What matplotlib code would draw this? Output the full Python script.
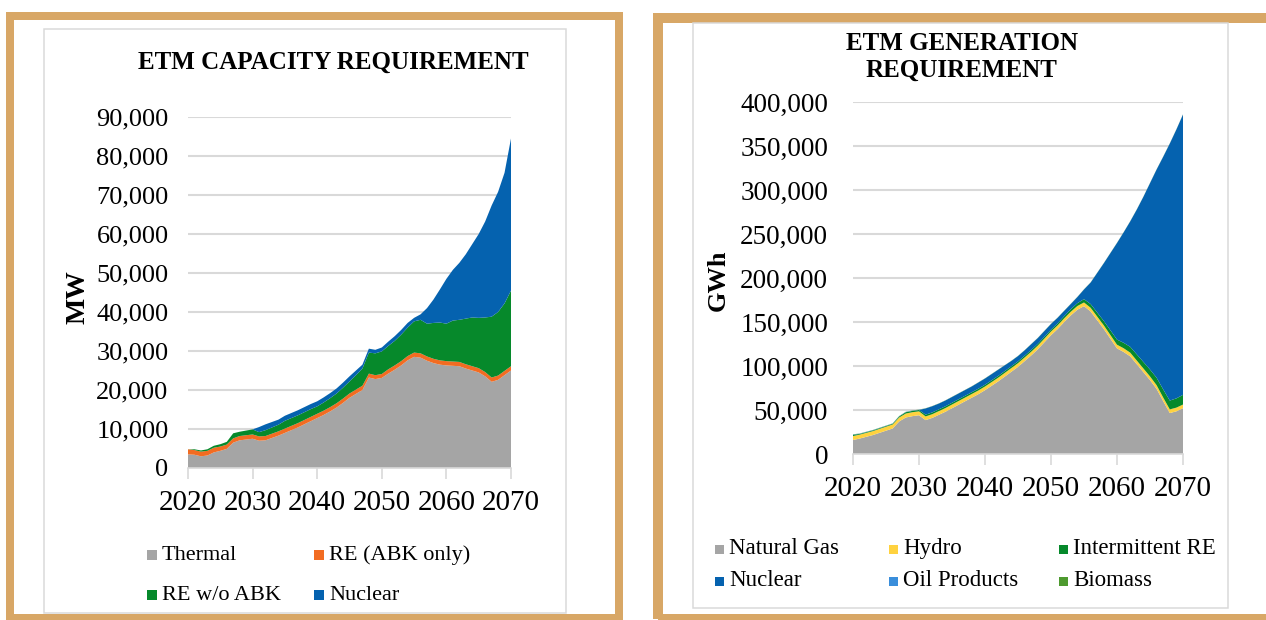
import matplotlib
matplotlib.use("Agg")
import matplotlib.pyplot as plt
from matplotlib.patches import Rectangle
from matplotlib.ticker import FuncFormatter

plt.rcParams['font.family'] = ['Liberation Serif', 'DejaVu Serif']

# ---- data ----
years = list(range(2020, 2071))

# capacity requirement, MW
cap_thermal = [3500, 3400, 3000, 3200, 4000, 4400, 4900, 6500, 7100, 7300,
               7500, 7000, 7100, 7700, 8300, 9000, 9700, 10400, 11200, 12000,
               12800, 13600, 14500, 15500, 16700, 18000, 19000, 20000, 23200, 22800,
               23100, 24200, 25200, 26300, 27600, 28500, 28300, 27500, 26900, 26500,
               26300, 26200, 26100, 25500, 25000, 24500, 23500, 22100, 22600, 23800, 25000]
cap_re_abk = [1300, 1200, 1200, 1200, 1200, 1100, 1100, 1100, 1100, 1100,
              1100, 1100, 1100, 1100, 1100, 1100, 1100, 1100, 1100, 1100,
              1100, 1100, 1100, 1100, 1100, 1100, 1100, 1100, 1000, 1000,
              1000, 1100, 1100, 1100, 1100, 1100, 1100, 1100, 1100, 1100,
              1100, 1100, 1100, 1100, 1100, 1100, 1100, 1100, 1100, 1100, 1100]
cap_re_wo_abk = [0, 200, 300, 400, 500, 600, 700, 1300, 1100, 1200,
                 1300, 1100, 1500, 1600, 1700, 2000, 2000, 2000, 2000, 2000,
                 1900, 2100, 2300, 2500, 2800, 3100, 3700, 4400, 5400, 5600,
                 5800, 6000, 6300, 6800, 7300, 8000, 8600, 8400, 9200, 9700,
                 9600, 10500, 10800, 11700, 12500, 12900, 14000, 15600, 16300, 17300, 19400]
cap_nuclear = [0, 0, 0, 0, 0, 0, 0, 0, 0, 0,
               0, 1300, 1500, 1400, 1300, 1300, 1300, 1300, 1300, 1300,
               1300, 1300, 1300, 1300, 1300, 1300, 1200, 1000, 1000, 900,
               1000, 1100, 1200, 1200, 1200, 900, 1400, 4000, 6000, 8500,
               11500, 13000, 14600, 16500, 18800, 21500, 24600, 28500, 30800, 33500, 39000]
cap_labels = ['Thermal', 'RE (ABK only)', 'RE w/o ABK', 'Nuclear']
cap_colors = ['#A5A5A5', '#F26C22', '#06892B', '#0562AF']

# generation requirement, GWh
gen_gas = [15900, 17500, 19500, 21500, 24000, 26500, 29000, 37000, 41500, 43000,
           44000, 38500, 41000, 44500, 48000, 52000, 56000, 60000, 64000, 68000,
           72500, 77500, 82500, 88000, 93500, 99000, 105500, 112000, 119000, 127000,
           135000, 142000, 150000, 157500, 164000, 168000, 162000, 152000, 142000, 131000,
           120000, 116000, 111000, 102000, 93000, 84000, 74000, 60000, 46500, 48500, 52000]
gen_hydro = [4500, 4500, 4500, 4500, 4500, 4500, 4500, 4500, 4500, 4500,
             4500, 4200, 4200, 4200, 4200, 4200, 4200, 4200, 4200, 4200,
             4200, 4200, 4200, 4200, 4200, 4200, 4200, 4200, 4200, 4200,
             4200, 4200, 4200, 4200, 4200, 4200, 4200, 4200, 4200, 4200,
             4200, 4200, 4200, 4200, 4200, 4200, 4200, 4200, 4200, 4200, 4200]
gen_int_re = [1500, 800, 800, 800, 800, 800, 800, 1200, 1500, 1500,
              1500, 2000, 2000, 2000, 2000, 2000, 2000, 2000, 2000, 2000,
              2000, 2000, 2000, 2000, 2000, 2000, 2000, 2000, 2000, 2000,
              2000, 2200, 2500, 2800, 3200, 3800, 4200, 4600, 5000, 5400,
              5800, 6200, 6600, 7000, 7400, 7800, 8500, 9200, 10000, 10500, 11000]
gen_nuclear = [0, 0, 0, 0, 0, 0, 0, 0, 0, 0,
               0, 7100, 7100, 6600, 6600, 6600, 6600, 6600, 6600, 7100,
               7100, 7100, 7100, 6600, 6100, 6100, 6100, 6600, 6600, 6600,
               6600, 6400, 6000, 6000, 7000, 11000, 24400, 45000, 65600, 87700,
               109800, 125400, 142500, 164600, 187700, 211800, 236600, 264400, 292100, 305600, 318600]
gen_oil = [300, 300, 300, 300, 300, 300, 300, 300, 300, 300,
           300, 0, 0, 0, 0, 0, 0, 0, 0, 0,
           0, 0, 0, 0, 0, 0, 0, 0, 0, 0,
           0, 0, 0, 0, 0, 0, 0, 0, 0, 0,
           0, 0, 0, 0, 0, 0, 0, 0, 0, 0, 0]
gen_biomass = [200] * 51
gen_labels = ['Natural Gas', 'Hydro', 'Intermittent RE', 'Nuclear', 'Oil Products', 'Biomass']
gen_colors = ['#A5A5A5', '#FFD23F', '#06892B', '#0562AF', '#3A8EDB', '#4E9A2F']

W, H = 1266, 620
fig = plt.figure(figsize=(W / 100, H / 100), dpi=100)


def fx(x):
    return x / W


def fy(y):
    return 1 - y / H


def box(x0, y0, x1, y1, color, lw_px):
    fig.patches.append(Rectangle((fx(x0), fy(y1)), fx(x1) - fx(x0), fy(y0) - fy(y1),
                                 transform=fig.transFigure, fill=False,
                                 edgecolor=color, linewidth=lw_px * 0.72))


# panel frames
tan = '#D8A766'
box(10, 16, 619, 618, tan, 8)
box(658, 18, 1268, 619, tan, 10)
box(44, 29, 566, 613, '#D9D9D9', 1.5)
box(693, 23, 1228, 608, '#D9D9D9', 1.5)

fmt = FuncFormatter(lambda v, p: f'{v:,.0f}')


def style(ax, ymax, step, xfs, yfs, ypad, xpad):
    ax.set_xlim(2020, 2070)
    ax.set_ylim(0, ymax)
    ax.set_xticks(range(2020, 2071, 10))
    ax.set_yticks(range(0, ymax + 1, step))
    ax.yaxis.set_major_formatter(fmt)
    for s in ['top', 'right', 'left']:
        ax.spines[s].set_visible(False)
    ax.spines['bottom'].set_color('#D9D9D9')
    ax.spines['bottom'].set_linewidth(1.2)
    ax.tick_params(axis='x', length=8, width=1.2, color='#D9D9D9', pad=xpad, labelsize=xfs)
    ax.tick_params(axis='y', length=0, pad=ypad, labelsize=yfs)
    ax.yaxis.grid(True, color='#D9D9D9', linewidth=1.5)
    ax.set_axisbelow(True)
    ax.set_facecolor('none')


# ---- left: capacity ----
ax1 = fig.add_axes([fx(188), fy(468), fx(511) - fx(188), fy(117) - fy(468)])
ax1.stackplot(years, cap_thermal, cap_re_abk, cap_re_wo_abk, cap_nuclear,
              colors=cap_colors, labels=cap_labels)
style(ax1, 90000, 10000, 21, 19, 14, 8)
fig.text(fx(333), fy(62), 'ETM CAPACITY REQUIREMENT', ha='center', va='center',
         fontsize=18, fontweight='bold')
fig.text(fx(78), fy(297), 'MW', ha='center', va='center', rotation=90,
         fontsize=20, fontweight='bold')

# ---- right: generation ----
ax2 = fig.add_axes([fx(853), fy(454), fx(1183) - fx(853), fy(102) - fy(454)])
ax2.stackplot(years, gen_gas, gen_hydro, gen_int_re, gen_nuclear, gen_oil, gen_biomass,
              colors=gen_colors, labels=gen_labels)
style(ax2, 400000, 50000, 21, 19.5, 18, 7.5)
fig.text(fx(962), fy(44), 'ETM GENERATION', ha='center', va='center',
         fontsize=18, fontweight='bold')
fig.text(fx(962), fy(70), 'REQUIREMENT', ha='center', va='center',
         fontsize=18, fontweight='bold')
fig.text(fx(718), fy(280), 'GWh', ha='center', va='center', rotation=90,
         fontsize=19, fontweight='bold')


# ---- legends (Excel-style small squares) ----
def legend_entry(x, y_base, size, label, color, fs):
    fig.patches.append(Rectangle((fx(x), fy(y_base)), size / W, size / H,
                                 transform=fig.transFigure, color=color, lw=0))
    fig.text(fx(x + size + 5), fy(y_base), label, ha='left', va='baseline', fontsize=fs)


cap_pos = [(147, 560), (314, 560), (147, 600), (314, 600)]
for (x, y), lab, col in zip(cap_pos, cap_labels, cap_colors):
    legend_entry(x, y, 10, lab, col, 16)

gen_pos = [(715, 554), (889, 554), (1059, 554), (715, 586), (889, 586), (1059, 586)]
for (x, y), lab, col in zip(gen_pos, gen_labels, gen_colors):
    legend_entry(x, y, 9, lab, col, 16.5)

fig.savefig('out.png', dpi=100)
